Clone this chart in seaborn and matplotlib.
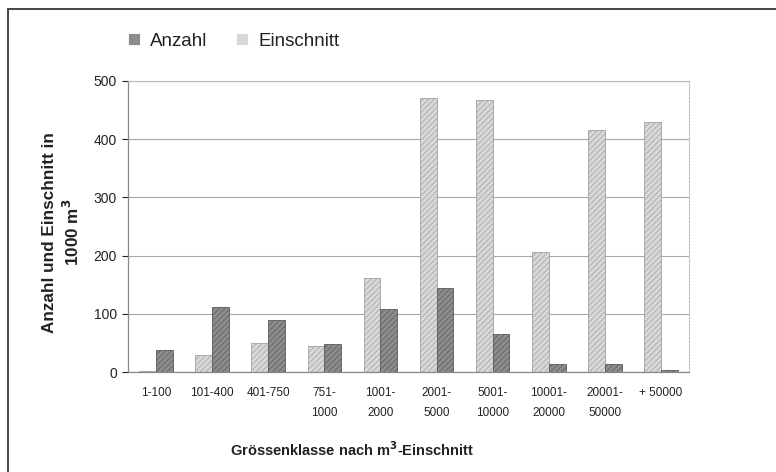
import numpy as np
import pandas as pd
import matplotlib
matplotlib.use("Agg")
import matplotlib.pyplot as plt
import seaborn as sns
from matplotlib.patches import Rectangle

# values (Einschnitt in 1000 m3, Anzahl)
klassen = ["1-100", "101-400", "401-750", "751-\n1000", "1001-\n2000",
           "2001-\n5000", "5001-\n10000", "10001-\n20000", "20001-\n50000",
           "+ 50000"]
einschnitt = [2, 29, 50, 44, 162, 471, 468, 206, 415, 429]
anzahl = [37, 111, 89, 48, 108, 145, 65, 13, 13, 4]

df = pd.DataFrame({
    "klasse": klassen * 2,
    "wert": einschnitt + anzahl,
    "serie": ["Einschnitt"] * len(klassen) + ["Anzahl"] * len(klassen),
})

sns.set_style("white")
plt.rcParams['font.family'] = ['Liberation Sans', 'DejaVu Sans']
plt.rcParams['hatch.linewidth'] = 0.5

fig = plt.figure(figsize=(7.76, 4.72), dpi=100)
ax = fig.add_axes([128 / 776, 100 / 472, 561 / 776, 291 / 472])

farben = {"Einschnitt": "#d8d8d8", "Anzahl": "#8c8c8c"}
kanten = {"Einschnitt": "#a0a0a0", "Anzahl": "#5a5a5a"}

sns.barplot(data=df, x="klasse", y="wert", hue="serie",
            hue_order=["Einschnitt", "Anzahl"], order=klassen,
            palette=farben, width=0.6, linewidth=0.6, ax=ax)

# fine diagonal hatching like the original
for cont, name in zip(ax.containers, ["Einschnitt", "Anzahl"]):
    for bar in cont:
        bar.set_hatch("//////")
        bar.set_edgecolor(kanten[name])

ax.set_ylim(0, 500)
ax.set_xlim(-0.5, len(klassen) - 0.5)
ax.set_yticks(range(0, 501, 100))
ax.yaxis.grid(True, color="#a8a8a8", linewidth=0.8)
ax.set_axisbelow(True)

# ticks between categories
ax.set_xticks(np.arange(-0.5, len(klassen), 1), minor=True)
ax.tick_params(axis="x", which="major", length=0, labelsize=8.5, pad=11, colors="#222222")
ax.tick_params(axis="x", which="minor", length=4, color="#777777", direction="out")
ax.tick_params(axis="y", length=4, color="#777777", labelsize=10, pad=4, left=True)
ax.tick_params(axis="y", colors="#222222")
for lab in ax.get_xticklabels():
    lab.set_linespacing(1.9)
    lab.set_verticalalignment("top")

for s in ["left", "bottom"]:
    ax.spines[s].set_color("#888888")
    ax.spines[s].set_linewidth(0.9)
for s in ["top", "right"]:
    ax.spines[s].set_color("#bbbbbb")
    ax.spines[s].set_linestyle((0, (1.5, 1.5)))
    ax.spines[s].set_linewidth(0.8)

ax.set_xlabel("Grössenklasse nach m$^{\\mathbf{3}}$-Einschnitt", fontsize=10.5,
              fontweight="bold", color="#222222")
ax.xaxis.set_label_coords((352 - 128) / 561, -(440 - 372) / 291)
ax.set_ylabel("Anzahl und Einschnitt in\n1000 m$^{\\mathbf{3}}$", fontsize=12.3,
              fontweight="bold", color="#222222", linespacing=1.3)
ax.yaxis.set_label_coords(-(128 - 82) / 561, 0.5 - 6 / 291)

# legend: Anzahl first, then Einschnitt
handles, labels = ax.get_legend_handles_labels()
ordnung = [labels.index("Anzahl"), labels.index("Einschnitt")]
ax.legend([handles[i] for i in ordnung], [labels[i] for i in ordnung],
          loc="center left", bbox_to_anchor=(111 / 776, 1 - 41 / 472),
          bbox_transform=fig.transFigure, ncol=2, frameon=False,
          fontsize=13.5, handlelength=0.65, handleheight=0.65,
          handletextpad=0.55, columnspacing=1.5, labelcolor="#222222")

# outer frame of the figure
fig.patches.append(Rectangle((8 / 776, -0.05), 1.1, 1 - 9 / 472 + 0.05,
                             transform=fig.transFigure, fill=False,
                             edgecolor="#444444", linewidth=1.4))

fig.savefig("out.png", dpi=100)
